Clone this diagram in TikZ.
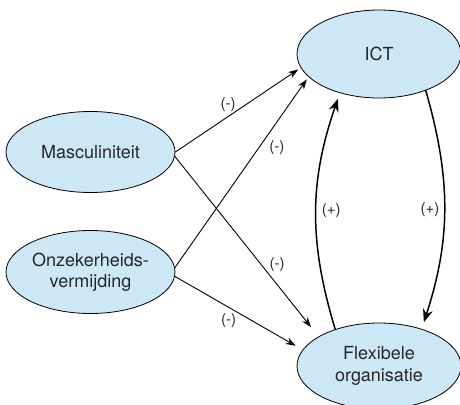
\documentclass[tikz,border=0pt]{standalone}
\usepackage{fontspec}
\setmainfont{TeX Gyre Heros}
\usetikzlibrary{shapes.geometric}
\usetikzlibrary{arrows.meta}
\definecolor{cce8f8}{rgb}{0.8,0.91,0.97}
\definecolor{zzzzzz}{rgb}{0.15,0.15,0.15}
\tikzset{factor/.style={ellipse,draw,line width=0.8pt,fill=cce8f8,inner sep=0pt,align=center,text=zzzzzz,font=\fontsize{18}{21.5}\selectfont},
  sign/.style={inner sep=0pt,text=zzzzzz,font=\fontsize{15}{18}\selectfont}}

\begin{document}
\begin{tikzpicture}[line cap=round,line join=round,>={Stealth[length=10pt,width=7pt]},x=1pt,y=-1pt]
            \useasboundingbox (0,0) rectangle (460,404);
            \clip (0,0) rectangle (460,404);
            \node [factor,minimum width=169pt,minimum height=81pt] (masc) at (90.5,152) {Masculiniteit};
            \node [factor,minimum width=169pt,minimum height=83pt] (onz) at (90.5,272) {Onzekerheids-\\vermijding};
            \node [factor,minimum width=164pt,minimum height=88pt] (ict) at (379,54) {ICT};
            \node [factor,minimum width=164pt,minimum height=86pt] (flex) at (379,366) {Flexibele\\organisatie};
            \draw [->,line width=0.9pt,shorten >=3pt] (masc.east) -- (ict.190) node [sign,pos=0.42,above=5pt] {(-)};
            \draw [->,line width=0.9pt,shorten >=3pt] (onz.3) -- (ict.198) node [sign,pos=0.63,right=10pt] {(-)};
            \draw [->,line width=0.9pt,shorten >=12pt] (masc.-3) -- (flex.154) node [sign,pos=0.6,right=8pt] {(-)};
            \draw [->,line width=0.9pt,shorten >=8pt] (onz.-3) -- (flex.168) node [sign,pos=0.42,below=6pt] {(-)};
            \draw [-{Stealth[length=13pt,width=10pt]},line width=1.5pt,shorten >=6pt] (flex.140) to [bend left=18] node [sign,right=5pt] {(+)} (ict.225);
            \draw [-{Stealth[length=13pt,width=10pt]},line width=1.5pt,shorten >=7pt] (ict.322) to [bend left=17] node [sign,left=4pt] {(+)} (flex.41);
\end{tikzpicture}
\end{document}
